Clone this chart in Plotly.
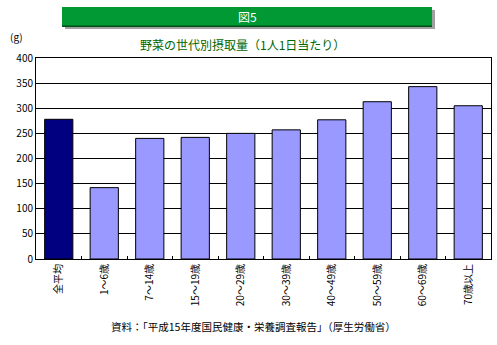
import plotly.graph_objects as go

# 世代別の野菜摂取量 (g/人/日)
categories = ["全平均", "1～6歳", "7～14歳", "15～19歳", "20～29歳",
              "30～39歳", "40～49歳", "50～59歳", "60～69歳", "70歳以上"]
values = [278, 142, 240, 242, 250, 257, 277, 313, 343, 305]
bar_colors = ["#000080"] + ["#9999FF"] * 9
y_ticks = [0, 50, 100, 150, 200, 250, 300, 350, 400]

W, H = 497, 345
L, R, T, B = 36, 6, 58, 86
pw, ph = W - L - R, H - T - B

def px(x):
    return (x - L) / pw

def py(y):
    return (H - B - y) / ph

font = "Noto Sans CJK JP, sans-serif"

fig = go.Figure(go.Bar(
    x=categories, y=values,
    marker=dict(color=bar_colors, line=dict(color="black", width=1)),
))

shapes = [
    # banner shadow + banner
    dict(type="rect", xref="paper", yref="paper", x0=px(65), x1=px(435), y0=py(29), y1=py(10),
         fillcolor="#a0a0a0", line=dict(width=0), layer="below"),
    dict(type="rect", xref="paper", yref="paper", x0=px(62), x1=px(432), y0=py(27), y1=py(7),
         fillcolor="#009933", line=dict(width=0), layer="below"),
    dict(type="rect", xref="paper", yref="paper", x0=px(62), x1=px(432), y0=py(27), y1=py(25.5),
         fillcolor="#004d1a", line=dict(width=0), layer="below"),
]

def note(text, x, y, size, color):
    return dict(text=text, x=px(x), y=py(y), xref="paper", yref="paper", showarrow=False,
                xanchor="center", yanchor="middle",
                font=dict(family=font, size=size, color=color))

annotations = [
    note("図5", 247, 17, 12, "white"),
    note("野菜の世代別摂取量（1人1日当たり）", 242, 44, 12, "#006600"),
    note("(g)", 16, 36, 10, "black"),
    note("資料：「平成15年度国民健康・栄養調査報告」（厚生労働省）", 253, 326, 10.5, "black"),
]

fig.update_layout(
    width=W, height=H,
    margin=dict(l=L, r=R, t=T, b=B, pad=0),
    paper_bgcolor="white", plot_bgcolor="white",
    bargap=0.38, showlegend=False,
    font=dict(family=font, size=10, color="black"),
    shapes=shapes, annotations=annotations,
    xaxis=dict(tickangle=-90, showline=True, linecolor="black", linewidth=1, mirror=True,
               ticks="inside", tickson="boundaries", ticklen=3, tickcolor="black",
               tickfont=dict(size=10), showgrid=False),
    yaxis=dict(range=[0, 400], tickvals=y_ticks, showgrid=True, gridcolor="black", gridwidth=1,
               showline=True, linecolor="black", linewidth=1, mirror=True, zeroline=False,
               ticks="", tickfont=dict(size=10)),
)

fig.write_html("out.html")
